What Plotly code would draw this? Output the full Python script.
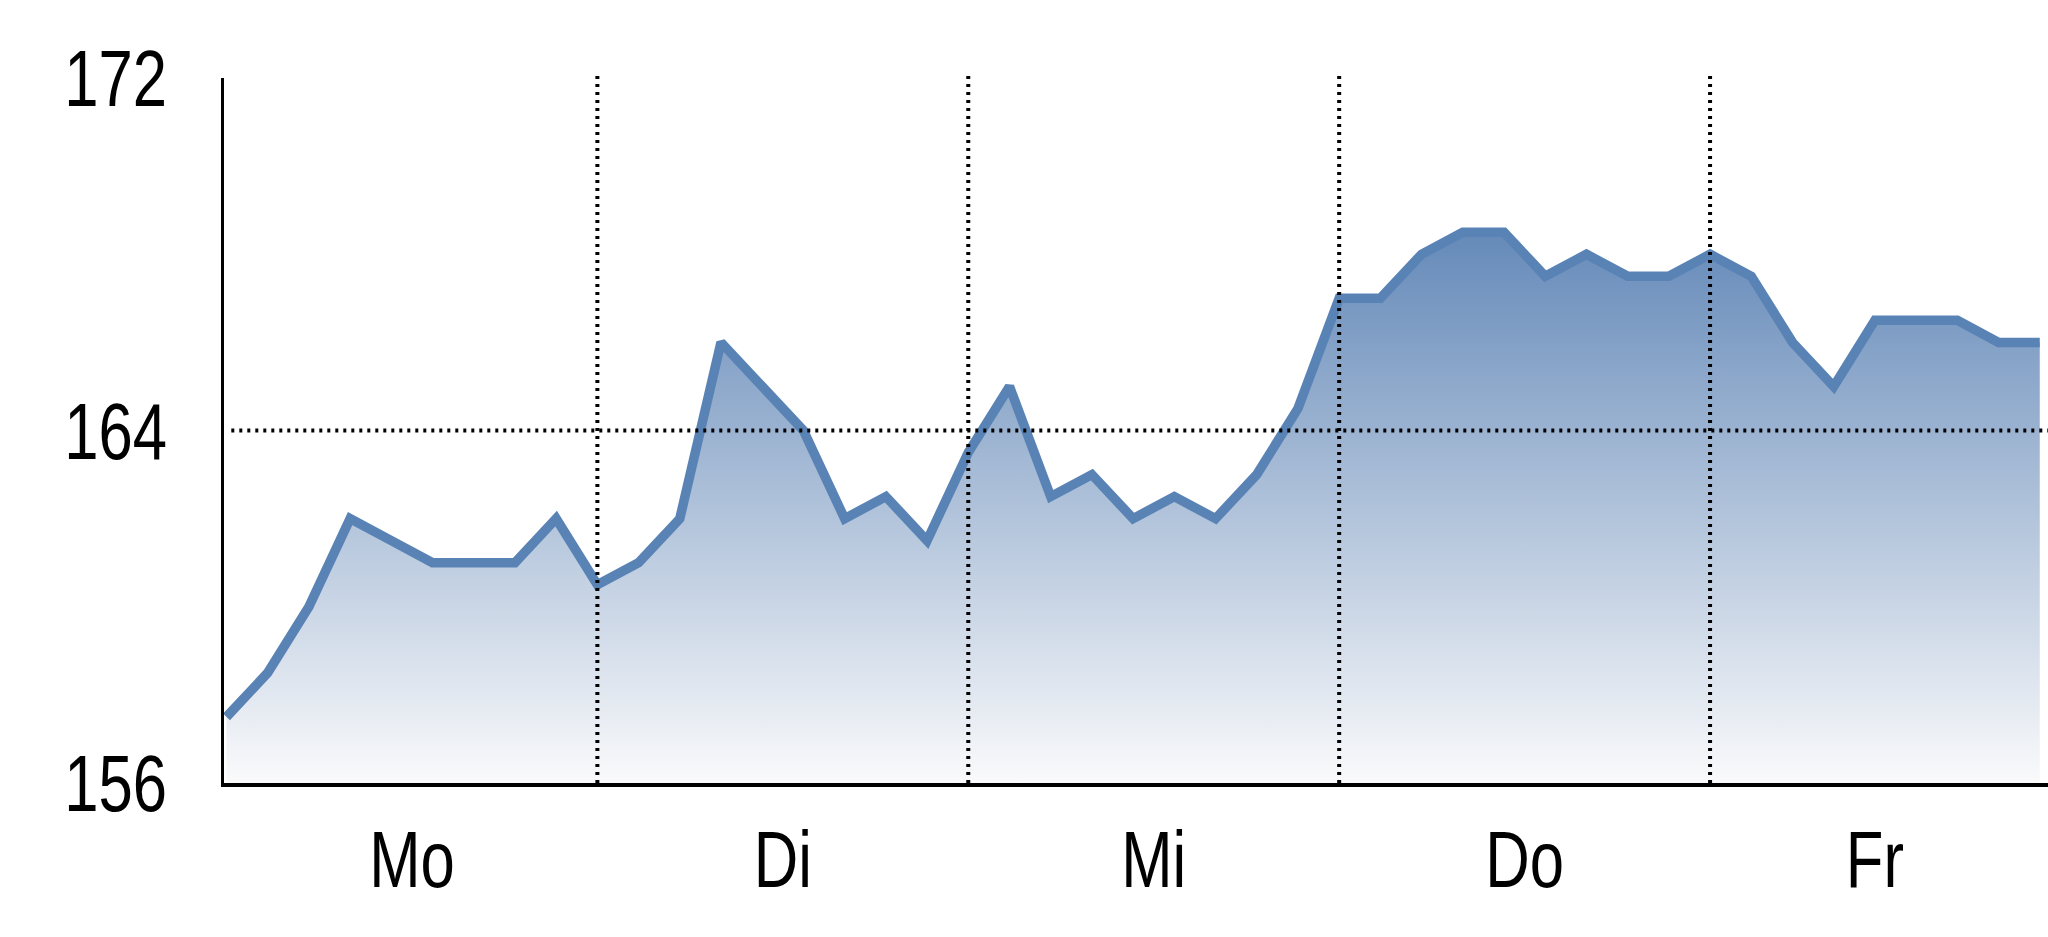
import plotly.graph_objects as go

# Data (intraday values, 9 per weekday)
values = [157.5, 158.5, 160, 162, 161.5, 161, 161, 161, 162,
          160.5, 161, 162, 166, 165, 164, 162, 162.5, 161.5,
          163.5, 165, 162.5, 163, 162, 162.5, 162, 163, 164.5,
          167, 167, 168, 168.5, 168.5, 167.5, 168, 167.5, 167.5,
          168, 167.5, 166, 165, 166.5, 166.5, 166.5, 166, 166]
x_index = list(range(len(values)))
day_labels = ["Mo", "Di", "Mi", "Do", "Fr"]
day_label_pos = [4.5, 13.5, 22.5, 31.5, 40]
day_separators = [9, 18, 27, 36]
y_ticks = [156, 164, 172]

FONT = "Liberation Sans, Arial, sans-serif"
FS = 80

fig = go.Figure()
fig.add_trace(go.Scatter(
    x=x_index, y=values, mode="lines",
    line=dict(color="rgb(90,131,181)", width=9.5),
    fill="tozeroy",
    fillgradient=dict(type="vertical", start=156, stop=168.5,
                      colorscale=[[0, "rgb(250,250,251)"], [1, "rgb(101,138,185)"]]),
    hoverinfo="skip", showlegend=False,
))

for s in day_separators:
    fig.add_shape(type="line", xref="x", yref="paper", x0=s, x1=s, y0=0, y1=1.004,
                  line=dict(color="black", width=4, dash="3px,5px"), layer="above")
fig.add_shape(type="line", xref="paper", yref="y", x0=0.004, x1=1, y0=164, y1=164,
              line=dict(color="black", width=4, dash="3px,5px"), layer="above")

fig.update_layout(
    width=2048, height=937,
    margin=dict(l=224, r=0, t=78, b=154),
    paper_bgcolor="white", plot_bgcolor="white",
    font=dict(family=FONT, size=FS, color="black"),
    xaxis=dict(range=[-0.06, 44.2], tickvals=day_label_pos, ticktext=day_labels,
               showgrid=False, zeroline=False, showline=True, linecolor="black",
               linewidth=4, ticks="", ticklabelstandoff=4,
               tickfont=dict(family=FONT, size=FS)),
    yaxis=dict(range=[156, 172], tickvals=y_ticks, showgrid=False, zeroline=False,
               showline=True, linecolor="black", linewidth=3, ticks="",
               ticklabelstandoff=38, tickfont=dict(family=FONT, size=FS)),
)

# Remove page margin and horizontally condense the tick labels
# (the reference uses a narrow typeface)
post_js = """
(function(){
  document.body.style.margin = '0';
  document.body.style.overflow = 'hidden';
  function squeeze(){
    document.querySelectorAll('.xtick text, .ytick text').forEach(function(t){
      var bb = t.getBBox();
      var anchor = t.getAttribute('text-anchor');
      var cx = bb.x + (anchor === 'end' ? bb.width : (anchor === 'start' ? 0 : bb.width / 2));
      var tr = t.getAttribute('data-orig-tr');
      if (tr === null) { tr = t.getAttribute('transform') || ''; t.setAttribute('data-orig-tr', tr); }
      t.setAttribute('transform', tr + ' translate(' + cx + ',0) scale(0.77,1) translate(' + (-cx) + ',0)');
    });
  }
  squeeze();
})();
"""

fig.write_html("out.html", post_script=post_js,
               config={"displayModeBar": False, "staticPlot": True})
